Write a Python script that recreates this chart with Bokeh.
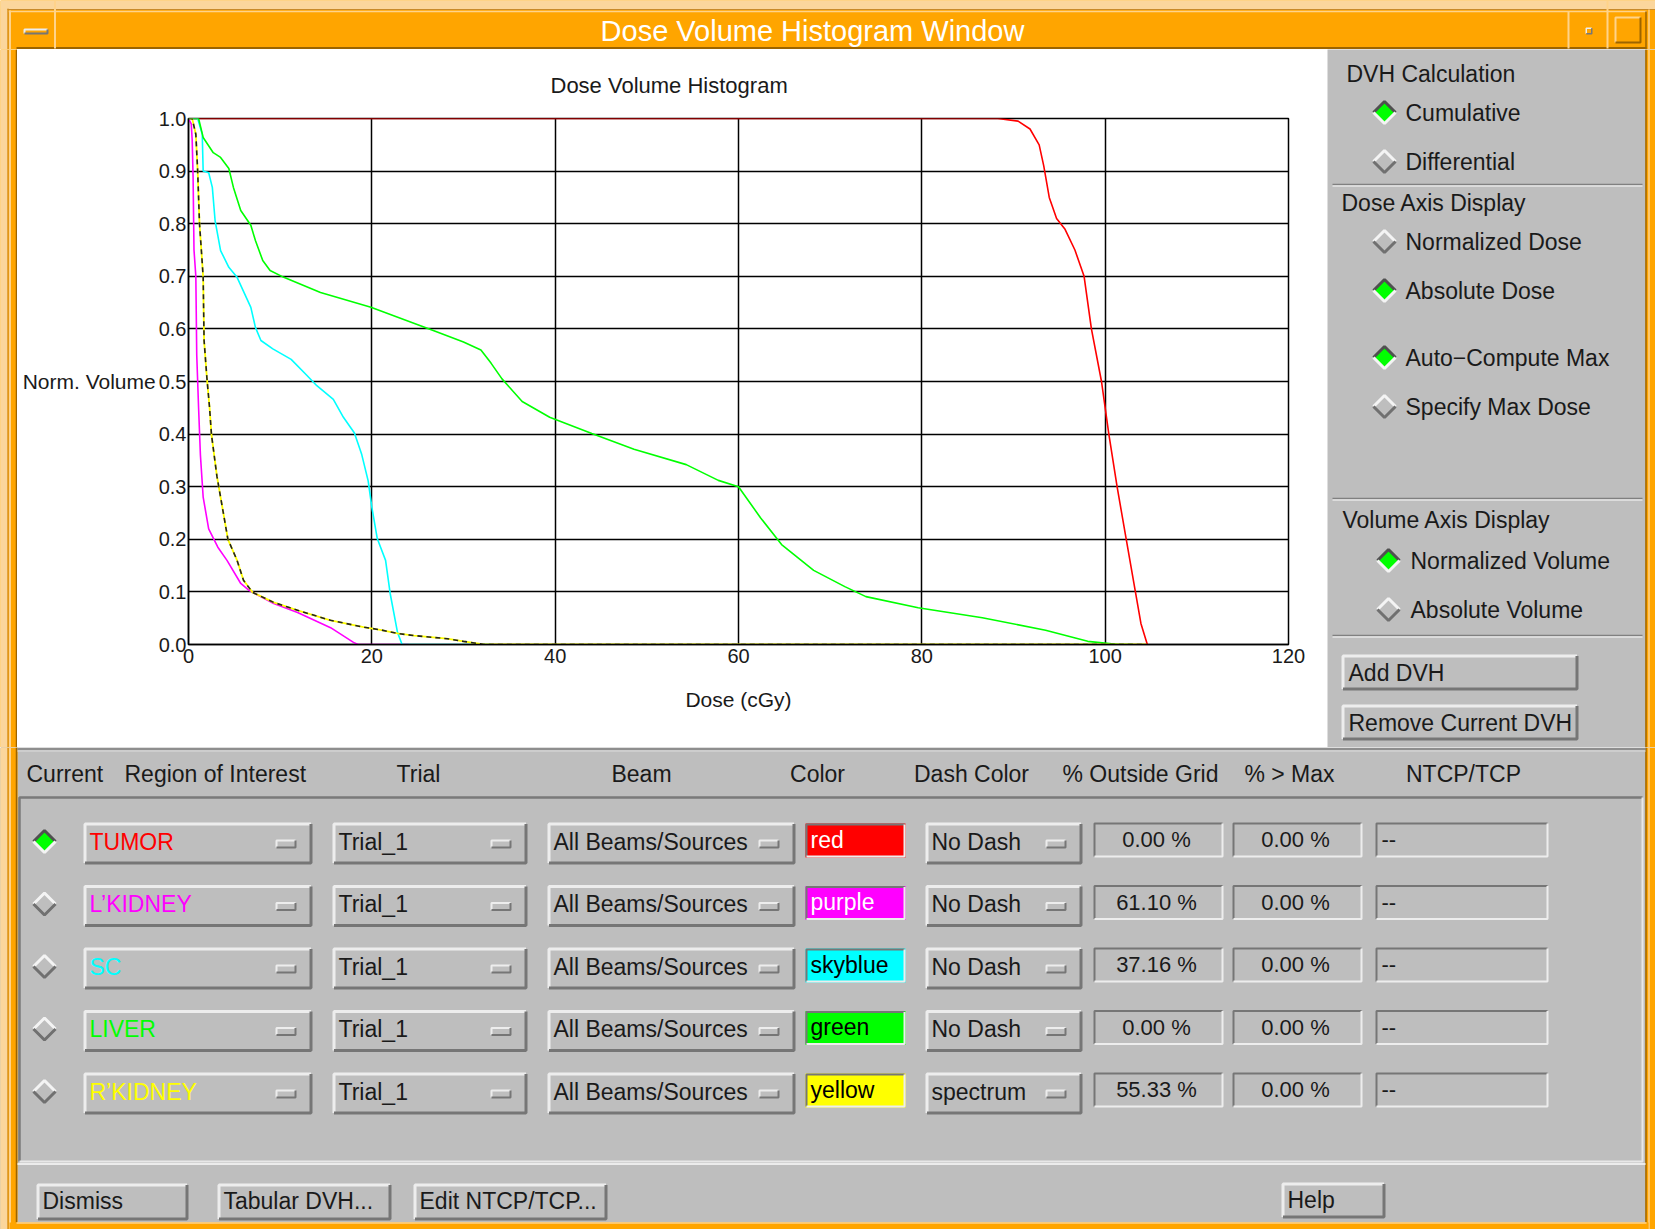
from bokeh.plotting import figure
from bokeh.models import Range1d, FixedTicker, PrintfTickFormatter
from bokeh.layouts import column, row
from bokeh.core.properties import value
from bokeh.embed import file_html
from bokeh.resources import INLINE

# ---------------- chart data ----------------
x_ticks = [0, 20, 40, 60, 80, 100, 120]
x_tick_labels = ["0", "20", "40", "60", "80", "100", "120"]
y_ticks = [0.0, 0.1, 0.2, 0.3, 0.4, 0.5, 0.6, 0.7, 0.8, 0.9, 1.0]
y_tick_labels = ["0.0", "0.1", "0.2", "0.3", "0.4", "0.5", "0.6", "0.7", "0.8", "0.9", "1.0"]

tumor_dose = [0, 88.3, 90.5, 91.8, 92.8, 93.3, 93.9, 94.7, 95.6, 96.7, 97.7, 98.5, 99.6, 100.4, 101.3, 102.3, 103.3, 103.9, 104.6]
tumor_vol = [1.0, 1.0, 0.995, 0.98, 0.95, 0.91, 0.85, 0.81, 0.79, 0.75, 0.70, 0.60, 0.50, 0.40, 0.30, 0.20, 0.10, 0.04, 0.0]

lkid_dose = [0, 0.3, 0.4, 0.5, 0.6, 0.8, 0.9, 1.1, 1.3, 1.6, 2.2, 3.2, 4.2, 5.7, 6.6, 9.3, 11.9, 15.5, 18.0, 18.5, 24.0]
lkid_vol = [1.0, 0.99, 0.96, 0.89, 0.75, 0.70, 0.55, 0.45, 0.36, 0.28, 0.22, 0.185, 0.16, 0.116, 0.103, 0.078, 0.061, 0.032, 0.004, 0.0, 0.0]

sc_dose = [0, 1.0, 1.5, 1.6, 2.2, 2.6, 2.9, 3.5, 4.4, 5.3, 6.8, 7.3, 7.9, 9.2, 11.2, 12.9, 14.0, 15.8, 16.9, 18.1, 18.9, 19.6, 20.0, 20.6, 21.5, 22.0, 22.8, 23.3, 33.0]
sc_vol = [1.0, 1.0, 0.97, 0.90, 0.897, 0.869, 0.806, 0.749, 0.717, 0.698, 0.641, 0.603, 0.578, 0.562, 0.542, 0.512, 0.492, 0.466, 0.432, 0.402, 0.361, 0.311, 0.261, 0.201, 0.16, 0.097, 0.023, 0.0, 0.0]

liver_dose = [0, 1.1, 1.6, 2.7, 3.5, 4.4, 4.9, 5.7, 6.8, 7.3, 8.1, 8.9, 10.4, 14.4, 19.9, 26.7, 30.0, 31.9, 33.0, 34.2, 36.4, 39.4, 44.0, 48.6, 54.3, 57.8, 60.0, 62.4, 64.7, 68.2, 71.6, 73.9, 79.6, 86.6, 93.5, 98.1, 101.5, 103.0]
liver_vol = [1.0, 1.0, 0.964, 0.935, 0.926, 0.905, 0.869, 0.825, 0.797, 0.768, 0.730, 0.711, 0.698, 0.669, 0.641, 0.597, 0.575, 0.56, 0.535, 0.505, 0.462, 0.432, 0.401, 0.371, 0.342, 0.312, 0.300, 0.241, 0.190, 0.141, 0.110, 0.091, 0.070, 0.051, 0.027, 0.006, 0.0, 0.0]

rkid_dose = [0, 0.4, 0.8, 1.0, 1.2, 1.5, 1.6, 1.7, 2.0, 2.3, 2.5, 3.1, 3.7, 4.3, 5.3, 6.0, 7.0, 9.3, 11.9, 15.5, 19.1, 20.9, 22.8, 24.6, 28.2, 30.0, 32.2, 104.5]
rkid_vol = [1.0, 1.0, 0.97, 0.90, 0.80, 0.725, 0.698, 0.578, 0.508, 0.45, 0.40, 0.32, 0.26, 0.20, 0.16, 0.122, 0.099, 0.080, 0.065, 0.046, 0.033, 0.028, 0.021, 0.017, 0.011, 0.006, 0.0, 0.0]

# ---------------- table data ----------------
header_labels = ["Current", "Region of Interest", "Trial", "Beam", "Color", "Dash Color",
                 "% Outside Grid", "% > Max", "NTCP/TCP"]
roi_names = ["TUMOR", "L\u2019KIDNEY", "SC", "LIVER", "R\u2019KIDNEY"]
roi_colors = ["#ff0000", "#ff00ff", "#00ffff", "#00ff00", "#ffff00"]
trial_names = ["Trial_1", "Trial_1", "Trial_1", "Trial_1", "Trial_1"]
beam_names = ["All Beams/Sources"] * 5
color_names = ["red", "purple", "skyblue", "green", "yellow"]
swatch_text_colors = ["white", "white", "black", "black", "black"]
dash_colors = ["No Dash", "No Dash", "No Dash", "No Dash", "spectrum"]
pct_outside = ["0.00 %", "61.10 %", "37.16 %", "0.00 %", "55.33 %"]
pct_over_max = ["0.00 %", "0.00 %", "0.00 %", "0.00 %", "0.00 %"]
ntcp_tcp = ["--", "--", "--", "--", "--"]
current_row = 0

FONT = "Liberation Sans"
GRAY = "#bebebe"
ORANGE = "#ffa500"
PEACH = "#fbd69c"
LORANGE = "#ffd38a"
DORANGE = "#9c6400"
LIGHT = "#ededed"
DARK = "#767676"
TXT = "#1a1a1a"
FS = 23


def chrome(x0, x1, y0, y1, bg):
    f = figure(width=int(x1 - x0), height=int(y1 - y0),
               x_range=Range1d(x0, x1), y_range=Range1d(y1, y0),
               output_backend="svg", toolbar_location=None, min_border=0,
               x_axis_location=None, y_axis_location=None,
               outline_line_color=None, background_fill_color=bg, border_fill_color=bg)
    f.grid.visible = False
    return f


def seg(f, xs, ys, color, w=1):
    f.line(xs, ys, line_color=color, line_width=w)


def box(f, x0, y0, x1, y1, color):
    f.quad(left=[x0], right=[x1], top=[y0], bottom=[y1], fill_color=color, line_color=None)


def bevel(f, x0, y0, x1, y1, raised=True, w=2, fill=GRAY):
    box(f, x0, y0, x1, y1, fill)
    h = w / 2
    lt, rb = (LIGHT, DARK) if raised else (DARK, LIGHT)
    seg(f, [x0 + h, x0 + h, x1 - h], [y1 - h, y0 + h, y0 + h], lt, w)
    seg(f, [x0 + h, x1 - h, x1 - h], [y1 - h, y1 - h, y0 + h], rb, w)


def txt(f, x, y, s, size=FS, color=TXT, align="left"):
    f.text(x=[x], y=[y], text=[s], text_font=value(FONT), text_font_size=f"{size}px",
           text_color=color, text_align=align, text_baseline="middle")


def diamond(f, cx, cy, on, r=11):
    fill = "#00ff00" if on else GRAY
    f.patch([cx - r, cx, cx + r, cx], [cy, cy - r, cy, cy + r], fill_color=fill, line_color=None)
    up, down = ("#505050", "#f4f4f4") if on else ("#f4f4f4", "#707070")
    seg(f, [cx - r, cx, cx + r], [cy, cy - r, cy], up, 3)
    seg(f, [cx - r, cx, cx + r], [cy, cy + r, cy], down, 3)


def menu_button(f, x0, y0, x1, y1, label, color=TXT):
    bevel(f, x0, y0, x1, y1, raised=True, w=3)
    c = (y0 + y1) / 2
    bevel(f, x1 - 37, c - 4, x1 - 16, c + 5, raised=True, w=2)
    txt(f, x0 + 6, c - 2, label, FS, color)


# ---------------- title bar ----------------
tf = chrome(0, 1655, 0, 49, ORANGE)
box(tf, 0, 0, 1655, 8.5, PEACH)
box(tf, 0, 0, 7, 49, PEACH)
seg(tf, [7, 1655], [9, 9], "#c88a2a", 1)
seg(tf, [8, 1646], [11, 11], LORANGE, 1.5)
seg(tf, [7.5, 7.5], [8, 49], "#c88a2a", 1)
seg(tf, [9.5, 9.5], [10, 49], LORANGE, 2)
seg(tf, [16, 1646], [47.5, 47.5], DORANGE, 2)
seg(tf, [54.5, 54.5], [0, 48], LORANGE, 2)
bevel(tf, 23, 28, 48, 34, raised=True, w=2, fill=ORANGE)
seg(tf, [1568, 1568], [11, 48], LORANGE, 2)
seg(tf, [1607, 1607], [0, 48], LORANGE, 2)
bevel(tf, 1585, 27, 1592, 34, raised=True, w=1.5, fill=ORANGE)
seg(tf, [1615, 1615, 1640], [42, 17, 17], LORANGE, 2)
seg(tf, [1615, 1640, 1640], [42, 42, 17], DORANGE, 2)
seg(tf, [1645.5, 1645.5], [11, 49], DORANGE, 1.5)
seg(tf, [1648.5, 1648.5], [9, 49], LORANGE, 1.5)
txt(tf, 812, 30, "Dose Volume Histogram Window", 29, "white", "center")

# ---------------- left border ----------------
lf = chrome(0, 17, 49, 747, ORANGE)
box(lf, 0, 49, 7, 747, PEACH)
seg(lf, [7.5, 7.5], [49, 747], "#c88a2a", 1)
seg(lf, [9.5, 9.5], [49, 747], LORANGE, 2)
seg(lf, [16, 16], [49, 747], DORANGE, 1.5)

# ---------------- DVH chart ----------------
p = figure(width=1310, height=698, x_range=Range1d(0, 120), y_range=Range1d(0, 1),
           output_backend="svg", toolbar_location=None,
           min_border_left=171, min_border_right=39, min_border_top=69, min_border_bottom=103,
           background_fill_color="white", border_fill_color="white",
           title="Dose Volume Histogram")
p.title.text_font = FONT
p.title.text_font_size = "22px"
p.title.text_font_style = "normal"
p.title.text_color = TXT
p.title.align = "left"
p.title.offset = 362
p.title.vertical_align = "top"
p.title.standoff = 38
p.outline_line_color = "black"
p.outline_line_width = 1.5
p.outline_line_alpha = 1.0

p.xaxis.ticker = FixedTicker(ticks=x_ticks)
p.xaxis.major_label_overrides = {t: l for t, l in zip(x_ticks, x_tick_labels)}
p.yaxis.ticker = FixedTicker(ticks=y_ticks)
p.yaxis.formatter = PrintfTickFormatter(format="%.1f")
p.yaxis.major_label_overrides = {t: l for t, l in zip(y_ticks, y_tick_labels)}
p.xgrid.ticker = FixedTicker(ticks=x_ticks)
p.ygrid.ticker = FixedTicker(ticks=y_ticks)
for g in (p.xgrid, p.ygrid):
    g.grid_line_color = "black"
    g.grid_line_width = 1.5
    g.grid_line_alpha = 1.0
for ax in (p.xaxis, p.yaxis):
    ax.axis_line_color = "black"
    ax.axis_line_width = 1.5
    ax.major_tick_in = 0
    ax.major_tick_out = 0
    ax.minor_tick_in = 0
    ax.minor_tick_out = 0
    ax.major_label_text_font = FONT
    ax.major_label_text_font_size = "20px"
    ax.major_label_text_color = TXT
    ax.axis_label_text_font = FONT
    ax.axis_label_text_font_size = "21px"
    ax.axis_label_text_font_style = "normal"
    ax.axis_label_text_color = TXT
p.yaxis.major_label_text_baseline = "bottom"
p.xaxis.major_label_standoff = 4
p.yaxis.major_label_standoff = 2
p.xaxis.axis_label = "Dose (cGy)"
p.xaxis.axis_label_standoff = 22
p.yaxis.axis_label = "Norm. Volume"
p.yaxis.axis_label_orientation = "horizontal"
p.yaxis.axis_label_standoff = 0

p.line(tumor_dose, tumor_vol, line_color=roi_colors[0], line_width=1.6)
p.line(lkid_dose, lkid_vol, line_color=roi_colors[1], line_width=1.6)
p.line(sc_dose, sc_vol, line_color=roi_colors[2], line_width=1.6)
p.line(liver_dose, liver_vol, line_color=roi_colors[3], line_width=1.6)
p.line(rkid_dose, rkid_vol, line_color=roi_colors[4], line_width=1.8)
p.line(rkid_dose, rkid_vol, line_color="#222222", line_width=1.6, line_dash="5 4")

# ---------------- right control panel ----------------
rf = chrome(1327, 1655, 49, 747, GRAY)
box(rf, 1645, 49, 1655, 747, ORANGE)
seg(rf, [1645.5, 1645.5], [49, 747], DORANGE, 1.5)
seg(rf, [1648.5, 1648.5], [49, 747], LORANGE, 1.5)
for ysep in (184, 498, 635):
    seg(rf, [1332, 1642], [ysep, ysep], "#808080", 1.5)
    seg(rf, [1332, 1642], [ysep + 1.5, ysep + 1.5], "#e6e6e6", 1.5)
txt(rf, 1346, 73, "DVH Calculation")
diamond(rf, 1384, 112, True)
txt(rf, 1405, 112, "Cumulative")
diamond(rf, 1384, 161, False)
txt(rf, 1405, 161, "Differential")
txt(rf, 1341, 202, "Dose Axis Display")
diamond(rf, 1384, 241, False)
txt(rf, 1405, 241, "Normalized Dose")
diamond(rf, 1384, 290, True)
txt(rf, 1405, 290, "Absolute Dose")
diamond(rf, 1384, 357, True)
txt(rf, 1405, 357, "Auto\u2212Compute Max")
diamond(rf, 1384, 406, False)
txt(rf, 1405, 406, "Specify Max Dose")
txt(rf, 1342, 519, "Volume Axis Display")
diamond(rf, 1388, 560, True)
txt(rf, 1410, 560, "Normalized Volume")
diamond(rf, 1388, 609, False)
txt(rf, 1410, 609, "Absolute Volume")
bevel(rf, 1341, 654, 1578, 690, raised=True, w=3)
txt(rf, 1348, 672, "Add DVH")
bevel(rf, 1341, 704, 1578, 740, raised=True, w=3)
txt(rf, 1348, 722, "Remove Current DVH")

# ---------------- bottom: table and buttons ----------------
bf = chrome(0, 1655, 747, 1229, GRAY)
box(bf, 0, 747, 17, 1229, ORANGE)
box(bf, 0, 747, 7, 1229, PEACH)
seg(bf, [7.5, 7.5], [747, 1229], "#c88a2a", 1)
seg(bf, [9.5, 9.5], [747, 1229], LORANGE, 2)
seg(bf, [16, 16], [747, 1222], DORANGE, 1.5)
box(bf, 1645, 747, 1655, 1229, ORANGE)
seg(bf, [1645.5, 1645.5], [747, 1222], DORANGE, 1.5)
seg(bf, [1648.5, 1648.5], [747, 1229], LORANGE, 1.5)
box(bf, 9, 1222, 1648, 1229, ORANGE)
seg(bf, [16, 1646], [1222.5, 1222.5], LORANGE, 1.5)
seg(bf, [17, 1645], [748.5, 748.5], "#8e8e8e", 2)
seg(bf, [17, 1645], [750.5, 750.5], "#d2d2d2", 1.5)

hdr_x = [26, 124, 418, 641, 817, 971, 1140, 1289, 1463]
hdr_align = ["left", "left", "center", "center", "center", "center", "center", "center", "center"]
for hx, ha, hl in zip(hdr_x, hdr_align, header_labels):
    txt(bf, hx, 773, hl, FS, TXT, ha)

# table sunken frame
seg(bf, [19, 19, 1642], [1161, 797, 797], "#7a7a7a", 2.5)
seg(bf, [19, 1642, 1642], [1161, 1161, 797], "#e8e8e8", 2)
seg(bf, [17, 1645], [1163.5, 1163.5], "#ececec", 2)

for i in range(len(roi_names)):
    c = 843 + 62.5 * i
    diamond(bf, 44, c - 2, i == current_row)
    menu_button(bf, 83, c - 21, 312, c + 21, roi_names[i], roi_colors[i])
    menu_button(bf, 332, c - 21, 527, c + 21, trial_names[i])
    menu_button(bf, 547, c - 21, 795, c + 21, beam_names[i])
    bevel(bf, 805, c - 20, 905, c + 14, raised=False, w=2, fill=roi_colors[i])
    txt(bf, 810, c - 4, color_names[i], FS, swatch_text_colors[i])
    menu_button(bf, 925, c - 21, 1082, c + 21, dash_colors[i])
    bevel(bf, 1093, c - 21, 1223, c + 14, raised=False, w=2)
    txt(bf, 1156, c - 4, pct_outside[i], 22, TXT, "center")
    bevel(bf, 1232, c - 21, 1362, c + 14, raised=False, w=2)
    txt(bf, 1295, c - 4, pct_over_max[i], 22, TXT, "center")
    bevel(bf, 1375, c - 21, 1548, c + 14, raised=False, w=2)
    txt(bf, 1381, c - 4, ntcp_tcp[i], 22, TXT)

for (bx0, by0, bx1, by1, lab) in [(36, 1183, 188, 1220, "Dismiss"),
                                  (217, 1183, 391, 1220, "Tabular DVH..."),
                                  (413, 1183, 607, 1220, "Edit NTCP/TCP..."),
                                  (1281, 1182, 1385, 1218, "Help")]:
    bevel(bf, bx0, by0, bx1, by1, raised=True, w=3)
    txt(bf, bx0 + 6, (by0 + by1) / 2 - 1, lab, FS)

mid = row(column(lf, spacing=0), p, column(rf, spacing=0), spacing=0)
layout = column(tf, mid, bf, spacing=0)
open("out.html", "w").write(file_html(layout, INLINE))
